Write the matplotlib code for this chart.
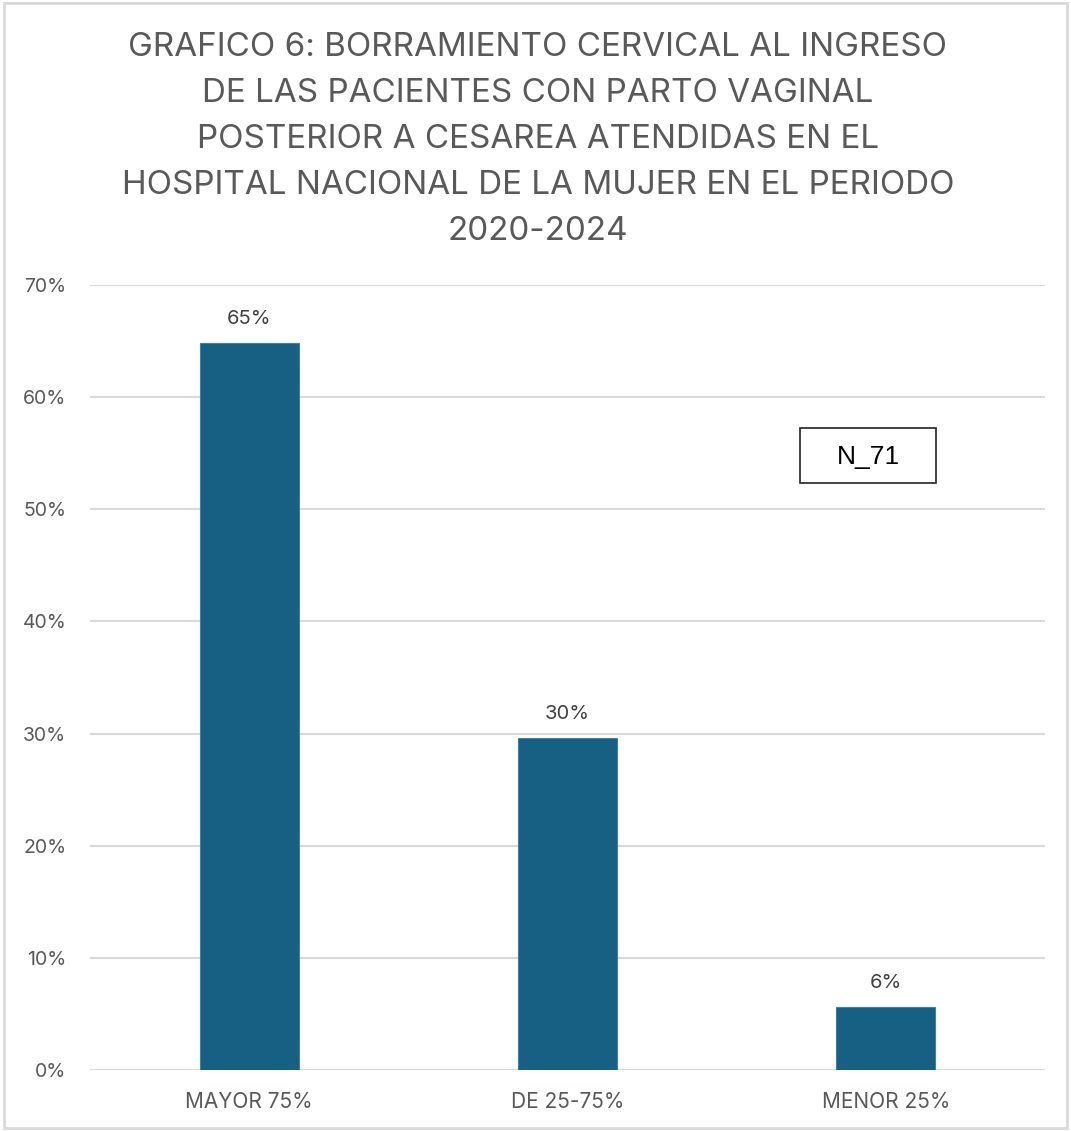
import matplotlib
matplotlib.use("Agg")
import matplotlib.pyplot as plt
from matplotlib.patches import Rectangle

# data
categories = ["MAYOR 75%", "DE 25-75%", "MENOR 25%"]
values = [46 / 71, 21 / 71, 4 / 71]
labels = ["65%", "30%", "6%"]
title_lines = [
    "GRAFICO 6: BORRAMIENTO CERVICAL AL INGRESO",
    "DE LAS PACIENTES CON PARTO VAGINAL",
    "POSTERIOR A CESAREA ATENDIDAS EN EL",
    "HOSPITAL NACIONAL DE LA MUJER EN EL PERIODO",
    "2020-2024",
]

plt.rcParams['font.family'] = ['Inter', 'DejaVu Sans']
gray = '#595959'

fig = plt.figure(figsize=(10.71, 11.31), dpi=100)
W, H = 1071, 1131

# outer border
fig.patches.append(Rectangle((4 / W, 3 / H), 1063 / W, 1125 / H, transform=fig.transFigure,
                             fill=False, edgecolor='#d9d9d9', linewidth=2))

ax = fig.add_axes([90 / W, 1 - 1070 / H, 955 / W, (1070 - 285) / H])

x = range(len(categories))
ax.bar(x, values, width=0.31, color='#176083', edgecolor='#3f7fa0', linewidth=0.8, zorder=3)
for i, (v, t) in enumerate(zip(values, labels)):
    ax.annotate(t, (i, v), xytext=(0, 11), textcoords='offset points',
                ha='center', va='bottom', fontsize=14.5, color='#404040')

ax.set_xlim(-0.5, 2.5)
ax.set_ylim(0, 0.7)
ax.set_yticks([i / 10 for i in range(8)])
ax.set_yticklabels([f"{i * 10}%" for i in range(8)])
ax.set_xticks(list(x))
ax.set_xticklabels(categories)
ax.tick_params(length=0, labelsize=15, labelcolor=gray)
ax.tick_params(axis='y', pad=17, labelsize=14)
ax.tick_params(axis='x', pad=16)
ax.grid(axis='y', color='#d9d9d9', linewidth=1.5, zorder=0)
for s in ax.spines.values():
    s.set_visible(False)

# title, one line at a time
for k, line in enumerate(title_lines):
    fig.text(538 / W, 1 - (48 + 45.8 * k) / H, line, ha='center', va='center',
             fontsize=23.9, color=gray)

# N box
fig.text(868 / W, 1 - 457 / H, "N_71", ha='center', va='center', fontsize=19,
         family='Liberation Sans', color='black')
fig.patches.append(Rectangle((800 / W, 1 - 483 / H), 136 / W, 55 / H, transform=fig.transFigure,
                             fill=False, edgecolor='#222222', linewidth=1.2))

fig.savefig("out.png", dpi=100)
